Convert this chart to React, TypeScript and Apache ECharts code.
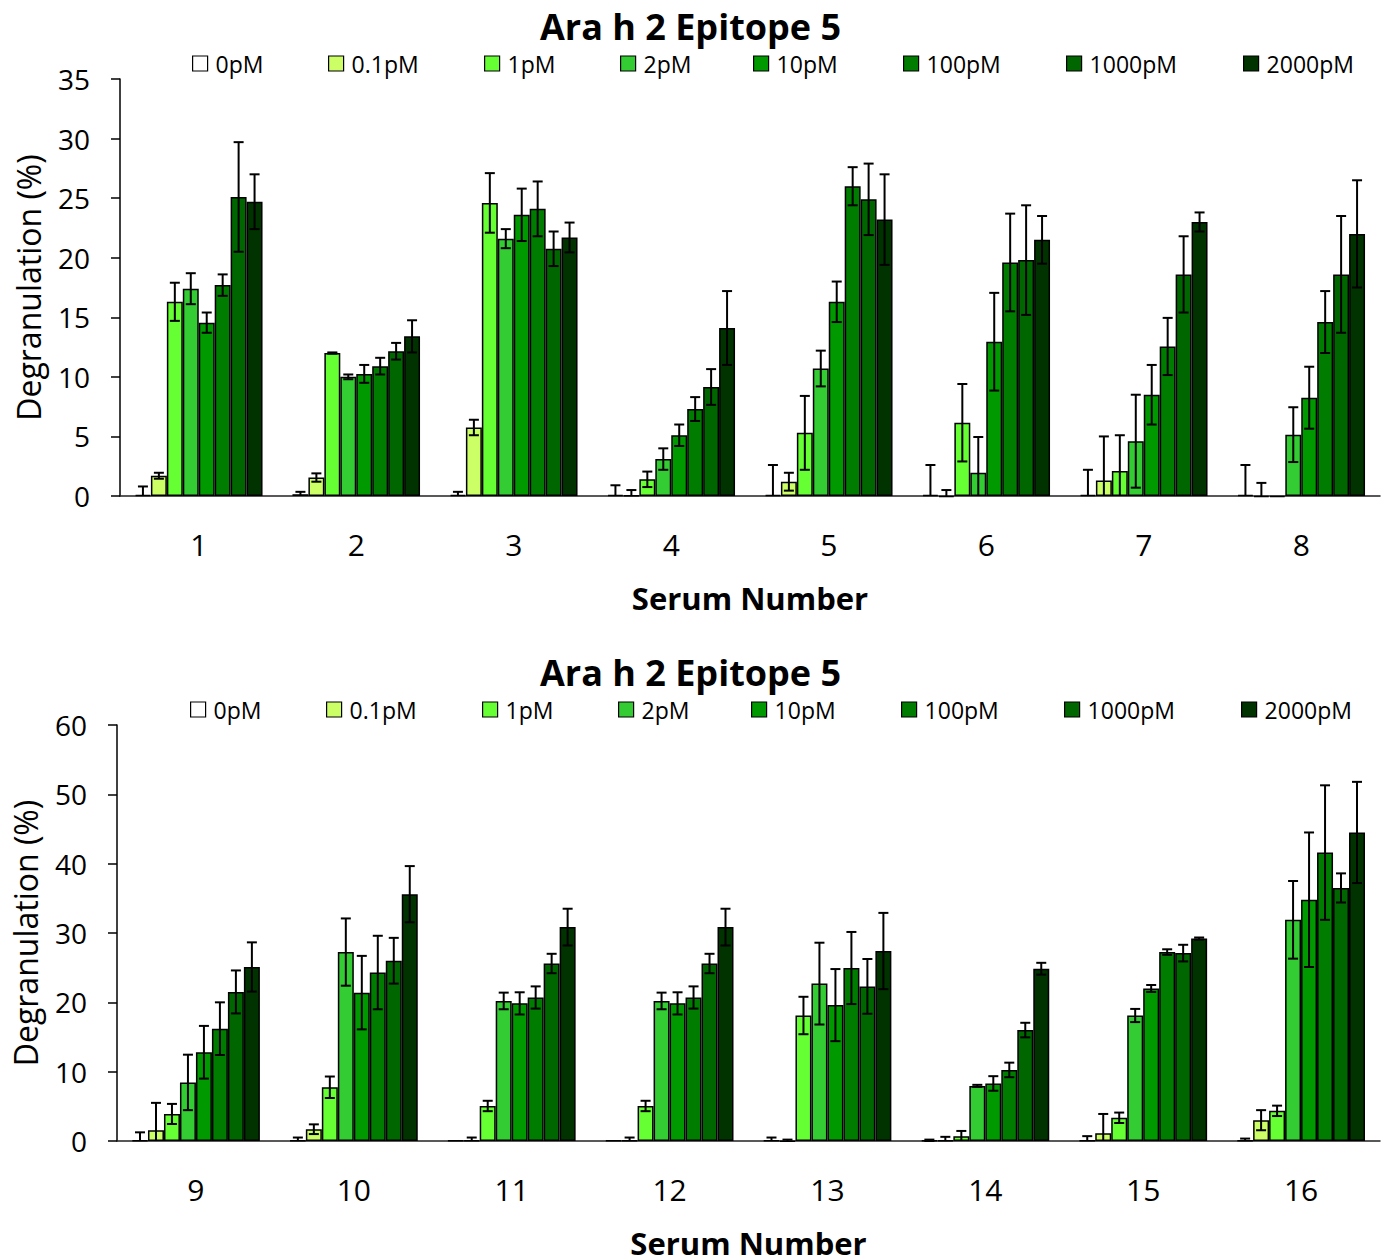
import React, { useEffect, useRef } from "react";
import * as echarts from "echarts";

const concentrations = ["0pM", "0.1pM", "1pM", "2pM", "10pM", "100pM", "1000pM", "2000pM"];
const colors = ["#FFFFFF", "#CCFF66", "#66FF33", "#33CC33", "#009900", "#007D00", "#006600", "#003300"];

const topSerums = ["1", "2", "3", "4", "5", "6", "7", "8"];
const bottomSerums = ["9", "10", "11", "12", "13", "14", "15", "16"];
const topTicks = [0, 5, 10, 15, 20, 25, 30, 35];
const bottomTicks = [0, 10, 20, 30, 40, 50, 60];

// Top chart (serum 1-8): means and error per concentration
const top_0pM = [0.1, 0.15, 0.1, 0.1, 0.1, 0.1, 0.1, 0.1];
const top_0pM_err = [0.7, 0.2, 0.25, 0.8, 2.5, 2.5, 2.1, 2.5];
const top_01pM = [1.7, 1.55, 5.75, 0.05, 1.2, -0.1, 1.3, -0.1];
const top_01pM_err = [0.25, 0.35, 0.65, 0.45, 0.75, 0.6, 3.7, 1.2];
const top_1pM = [16.3, 12.0, 24.6, 1.4, 5.3, 6.15, 2.1, -0.1];
const top_1pM_err = [1.6, 0.05, 2.5, 0.65, 3.1, 3.25, 3.0, 0];
const top_2pM = [17.4, 10.0, 21.6, 3.1, 10.7, 1.95, 4.6, 5.15];
const top_2pM_err = [1.3, 0.2, 0.8, 0.9, 1.5, 3.0, 3.9, 2.3];
const top_10pM = [14.55, 10.25, 23.6, 5.1, 16.3, 12.95, 8.5, 8.25];
const top_10pM_err = [0.85, 0.75, 2.2, 0.9, 1.7, 4.1, 2.5, 2.6];
const top_100pM = [17.7, 10.9, 24.1, 7.3, 26.0, 19.6, 12.55, 14.6];
const top_100pM_err = [0.9, 0.7, 2.3, 1.0, 1.6, 4.1, 2.4, 2.6];
const top_1000pM = [25.1, 12.15, 20.75, 9.15, 24.9, 19.8, 18.6, 18.6];
const top_1000pM_err = [4.6, 0.7, 1.45, 1.5, 3.0, 4.6, 3.2, 4.9];
const top_2000pM = [24.7, 13.4, 21.7, 14.1, 23.2, 21.5, 23.0, 22.0];
const top_2000pM_err = [2.3, 1.35, 1.25, 3.1, 3.8, 2.0, 0.8, 4.5];

// Bottom chart (serum 9-16)
const bot_0pM = [0.1, 0.05, 0.05, 0.05, 0.05, 0.1, 0.05, 0.05];
const bot_0pM_err = [1.15, 0.45, 0, 0, 0.45, 0.1, 0.65, 0.3];
const bot_01pM = [1.55, 1.7, 0.1, 0.1, -0.1, 0.1, 1.1, 3.0];
const bot_01pM_err = [3.95, 0.7, 0.4, 0.4, 0.3, 0.5, 2.8, 1.45];
const bot_1pM = [3.9, 7.75, 5.05, 5.05, 18.1, 0.7, 3.35, 4.35];
const bot_1pM_err = [1.45, 1.55, 0.75, 0.75, 2.7, 0.75, 0.75, 0.75];
const bot_2pM = [8.45, 27.25, 20.2, 20.2, 22.7, 7.95, 18.1, 31.9];
const bot_2pM_err = [4.0, 4.85, 1.2, 1.2, 5.9, 0.15, 0.95, 5.6];
const bot_10pM = [12.8, 21.4, 19.85, 19.85, 19.6, 8.3, 22.0, 34.8];
const bot_10pM_err = [3.8, 5.3, 1.6, 1.6, 5.2, 1.05, 0.5, 9.7];
const bot_100pM = [16.2, 24.3, 20.7, 20.7, 24.95, 10.25, 27.25, 41.6];
const bot_100pM_err = [3.8, 5.3, 1.6, 1.6, 5.2, 1.05, 0.4, 9.7];
const bot_1000pM = [21.5, 26.0, 25.6, 25.6, 22.3, 16.0, 27.1, 36.5];
const bot_1000pM_err = [3.1, 3.3, 1.4, 1.4, 3.95, 1.05, 1.2, 2.1];
const bot_2000pM = [25.1, 35.6, 30.85, 30.85, 27.4, 24.85, 29.2, 44.5];
const bot_2000pM_err = [3.55, 4.05, 2.65, 2.65, 5.5, 0.85, 0.15, 7.3];

const topMeans = [top_0pM, top_01pM, top_1pM, top_2pM, top_10pM, top_100pM, top_1000pM, top_2000pM];
const topErrs = [top_0pM_err, top_01pM_err, top_1pM_err, top_2pM_err, top_10pM_err, top_100pM_err, top_1000pM_err, top_2000pM_err];
const botMeans = [bot_0pM, bot_01pM, bot_1pM, bot_2pM, bot_10pM, bot_100pM, bot_1000pM, bot_2000pM];
const botErrs = [bot_0pM_err, bot_01pM_err, bot_1pM_err, bot_2pM_err, bot_10pM_err, bot_100pM_err, bot_1000pM_err, bot_2000pM_err];

const TITLE = "Ara h 2 Epitope 5";
const YNAME = "Degranulation (%)";
const XNAME = "Serum Number";

const FONT = "'Open Sans', sans-serif";
const CAT_GAP = 0.19;
const N = concentrations.length;

const legendLefts = [187, 323, 479, 615, 748, 898, 1061, 1238];

function makeErrorRender(k: number) {
  return (params: any, api: any) => {
    const cat = api.value(0);
    const v = api.value(1);
    const e = api.value(2);
    if (!(e > 0)) return null;
    const band = api.size([1, 0])[0];
    const groupW = band * (1 - CAT_GAP);
    const barW = groupW / N;
    const c = api.coord([cat, 0]);
    const cx = c[0] - groupW / 2 + barW * (k + 0.5);
    const hi = v + e;
    const loV = v - e;
    const yTop = api.coord([cat, hi])[1];
    const yBot = api.coord([cat, Math.max(loV, 0)])[1];
    const cap = 5;
    const style = { stroke: "#000", lineWidth: 2 };
    const children: any[] = [
      { type: "line", shape: { x1: cx, y1: yTop, x2: cx, y2: yBot }, style },
      { type: "line", shape: { x1: cx - cap, y1: yTop, x2: cx + cap, y2: yTop }, style },
    ];
    if (loV >= 0) {
      children.push({ type: "line", shape: { x1: cx - cap, y1: yBot, x2: cx + cap, y2: yBot }, style });
    }
    return { type: "group", children };
  };
}

function App() {
  const ref = useRef<HTMLDivElement>(null);
  useEffect(() => {
    if (!ref.current) return;
    const chart = echarts.init(ref.current, null, { renderer: "svg" });

    const series: any[] = [];
    const legends: any[] = [];
    [
      { means: topMeans, errs: topErrs, ax: 0 },
      { means: botMeans, errs: botErrs, ax: 1 },
    ].forEach(({ means, errs, ax }) => {
      concentrations.forEach((name, k) => {
        series.push({
          type: "bar",
          name,
          xAxisIndex: ax,
          yAxisIndex: ax,
          data: means[k],
          barGap: "0%",
          barCategoryGap: CAT_GAP * 100 + "%",
          clip: false,
          itemStyle: { color: colors[k], borderColor: "#000", borderWidth: 1.5 },
          z: 2,
        });
        series.push({
          type: "custom",
          name,
          xAxisIndex: ax,
          yAxisIndex: ax,
          data: means[k].map((v, i) => [i, v, errs[k][i]]),
          encode: { x: 0, y: 1 },
          renderItem: makeErrorRender(k),
          z: 4,
          silent: true,
        });
      });
      concentrations.forEach((name, k) => {
        legends.push({
          data: [name],
          left: legendLefts[k] - (ax === 1 ? 2 : 0),
          top: ax === 0 ? 47 : 693,
          itemWidth: 15,
          itemHeight: 15,
          icon: "rect",
          itemStyle: { borderColor: "#000", borderWidth: 1.2 },
          textStyle: { fontFamily: FONT, fontSize: 23, color: "#000", padding: [0, 0, 0, 3] },
          selectedMode: false,
        });
      });
    });

    const yAxisCommon = (max: number, interval: number) => ({
      type: "value",
      min: 0,
      max,
      interval,
      name: YNAME,
      nameLocation: "middle",
      nameGap: 76,
      nameTextStyle: { fontFamily: FONT, fontSize: 32, color: "#000" },
      axisLine: { show: true, lineStyle: { color: "#000", width: 1.5 } },
      axisTick: { show: true, length: 9, inside: false, lineStyle: { color: "#000", width: 1.5 } },
      axisLabel: { fontFamily: FONT, fontSize: 28, color: "#000", margin: 30 },
      splitLine: { show: false },
    });
    const xAxisCommon = (data: string[]) => ({
      type: "category",
      data,
      name: XNAME,
      nameLocation: "middle",
      nameGap: 86,
      nameTextStyle: { fontFamily: FONT, fontSize: 31, fontWeight: "bold", color: "#000" },
      axisLine: { show: true, lineStyle: { color: "#222", width: 1.5 } },
      axisTick: { show: false },
      axisLabel: { fontFamily: FONT, fontSize: 30, color: "#000", margin: 33 },
    });

    chart.setOption({
      animation: false,
      backgroundColor: "#fff",
      title: [
        { text: TITLE, left: "center", top: 7, padding: 0, textStyle: { fontFamily: FONT, fontSize: 36, lineHeight: 38, fontWeight: "bold", color: "#000" } },
        { text: TITLE, left: "center", top: 653, padding: 0, textStyle: { fontFamily: FONT, fontSize: 36, lineHeight: 38, fontWeight: "bold", color: "#000" } },
      ],
      legend: legends,
      grid: [
        { left: 120, top: 79, width: 1260, height: 417, containLabel: false, outerBoundsMode: "none" },
        { left: 117, top: 725, width: 1263, height: 416, containLabel: false, outerBoundsMode: "none" },
      ],
      xAxis: [
        { ...xAxisCommon(topSerums), gridIndex: 0 },
        { ...xAxisCommon(bottomSerums), gridIndex: 1 },
      ],
      yAxis: [
        { ...yAxisCommon(topTicks[topTicks.length - 1], topTicks[1] - topTicks[0]), gridIndex: 0 },
        { ...yAxisCommon(bottomTicks[bottomTicks.length - 1], bottomTicks[1] - bottomTicks[0]), gridIndex: 1 },
      ],
      series,
    });
    return () => chart.dispose();
  }, []);
  return (
    <div
      ref={ref}
      style={{ position: "absolute", left: 0, top: 0, width: 1381, height: 1259, background: "#fff" }}
    />
  );
}

export default App;
